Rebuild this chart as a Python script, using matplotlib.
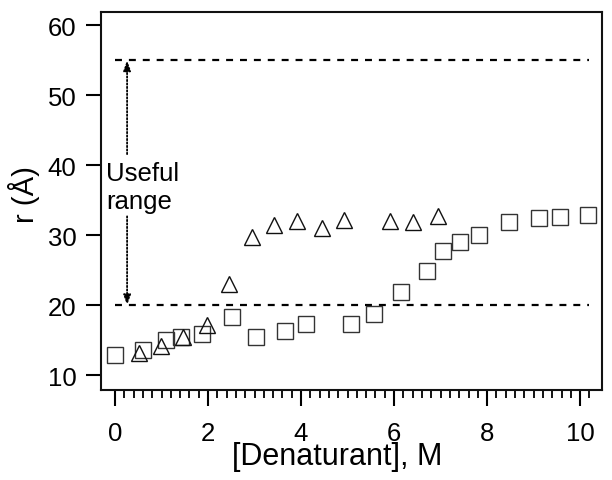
import matplotlib
matplotlib.use("Agg")
import matplotlib.pyplot as plt

plt.rcParams['font.family'] = ['Liberation Sans', 'DejaVu Sans']
plt.rcParams['lines.scale_dashes'] = False

# Data
sq_x = [0.0, 0.6, 1.1, 1.42, 1.87, 2.52, 3.03, 3.66, 4.11, 5.07, 5.57, 6.15, 6.7, 7.05, 7.42, 7.83, 8.47, 9.12, 9.57, 10.17]
sq_y = [12.9, 13.6, 15.0, 15.4, 15.9, 18.3, 15.4, 16.3, 17.3, 17.3, 18.7, 21.9, 24.9, 27.7, 29.1, 30.0, 31.9, 32.4, 32.6, 32.9]
tri_x = [0.52, 0.99, 1.46, 1.98, 2.46, 2.95, 3.41, 3.92, 4.46, 4.93, 5.92, 6.40, 6.94]
tri_y = [13.1, 14.2, 15.4, 17.1, 23.0, 29.8, 31.4, 32.0, 31.0, 32.2, 32.0, 31.9, 32.8]
upper_limit = 55
lower_limit = 20
range_label = "Useful\nrange"
x_ticks = [0, 2, 4, 6, 8, 10]
x_minor_ticks = [i * 0.2 for i in range(52) if i % 10 != 0]
y_ticks = [10, 20, 30, 40, 50, 60]

fig = plt.figure(figsize=(6.12, 4.81), dpi=100)
ax = fig.add_axes([101/612, 1-391/481, (602-101)/612, (391-12.5)/481])

ax.hlines([upper_limit, lower_limit], 0.0, 10.2, colors='black',
          linestyles=(0, (5, 5)), linewidth=1.6)

ax.plot(sq_x, sq_y, linestyle='none', marker='s', markersize=12.2,
        markerfacecolor='none', markeredgecolor='#333333', markeredgewidth=1.0)
ax.plot(tri_x, tri_y, linestyle='none', marker='^', markersize=12.0,
        markerfacecolor='none', markeredgecolor='#111111', markeredgewidth=1.0)

# Useful range arrows
arr_x = 0.26
for tip, start in [(upper_limit, 41.6), (lower_limit, 32.7)]:
    ax.annotate('', xy=(arr_x, tip), xytext=(arr_x, start),
                arrowprops=dict(arrowstyle='-|>,head_length=0.6,head_width=0.22',
                                linestyle=(0, (1, 1.5)), linewidth=1.3, color='black',
                                shrinkA=0, shrinkB=0))
ax.text(-0.19, 36.9, range_label, fontsize=18.5, ha='left', va='center',
        linespacing=1.25)

ax.set_xlim(-0.301, 10.47)
ax.set_ylim(7.86, 62)
ax.set_xticks(x_ticks)
ax.set_xticks(x_minor_ticks, minor=True)
ax.set_yticks(y_ticks)

ax.tick_params(axis='x', which='major', length=11.5, width=1.5, direction='out',
               labelsize=18.5, pad=11)
ax.tick_params(axis='x', which='minor', length=5.8, width=1.3, direction='out')
ax.tick_params(axis='y', which='major', length=10.8, width=1.5, direction='out',
               labelsize=18.5, pad=7)
for s in ax.spines.values():
    s.set_linewidth(1.5)
    s.set_color('#111111')

ax.set_xlabel('[Denaturant], M', fontsize=22)
ax.set_ylabel('r (Å)', fontsize=21)
ax.xaxis.set_label_coords(0.472, -0.135)
ax.yaxis.set_label_coords(-0.122, 0.518)

fig.savefig('out.png', dpi=100)
